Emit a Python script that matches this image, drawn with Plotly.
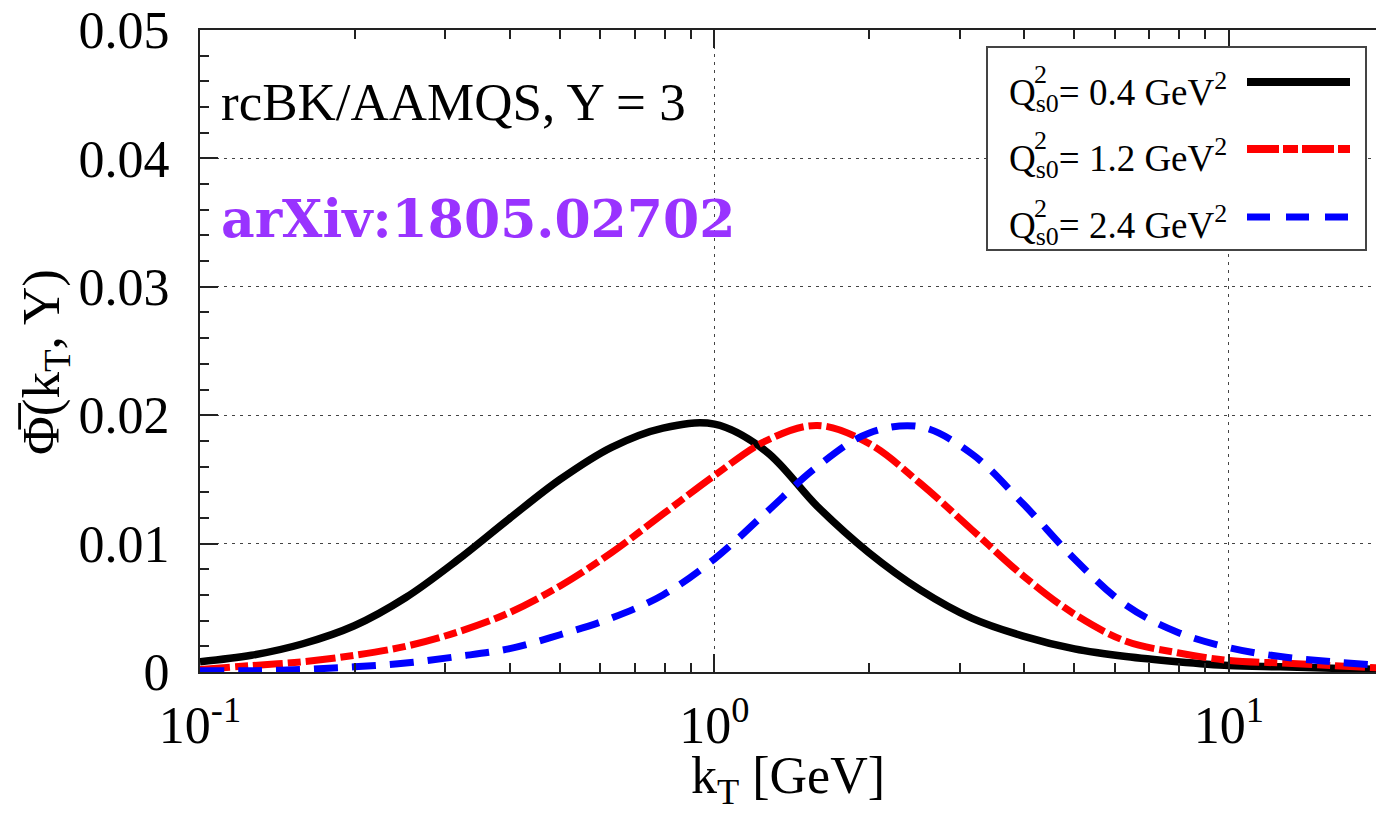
import plotly.graph_objects as go

# ---------------- data ----------------
# kT sample points [GeV] (even steps along the log axis)
k_T = [0.1, 0.1259, 0.1585, 0.1995, 0.2512, 0.3162, 0.3981, 0.5012, 0.6310, 0.7943,
       1.0, 1.2589, 1.5849, 1.9953, 2.5119, 3.1623, 3.9811, 5.0119, 6.3096, 7.9433,
       10.0, 12.589, 15.849, 19.953]

phi_black = [0.0008, 0.0013, 0.0022, 0.0036, 0.0058, 0.0087, 0.0119, 0.0150, 0.0175, 0.0190,
             0.0193, 0.0172, 0.0129, 0.0093, 0.0064, 0.0042, 0.0028, 0.0018, 0.0012, 0.0008,
             0.0005, 0.0004, 0.0003, 0.0002]
phi_red = [0.0002, 0.0005, 0.0008, 0.0013, 0.0020, 0.0031, 0.0046, 0.0067, 0.0093, 0.0123,
           0.0153, 0.0180, 0.0192, 0.0178, 0.0147, 0.0111, 0.0075, 0.0045, 0.0024, 0.0015,
           0.0009, 0.0007, 0.0005, 0.0003]
phi_blue = [0.0001, 0.0001, 0.0002, 0.0004, 0.0007, 0.0012, 0.0018, 0.0029, 0.0042, 0.0060,
            0.0088, 0.0124, 0.0160, 0.0186, 0.0191, 0.0170, 0.0131, 0.0088, 0.0052, 0.0031,
            0.0019, 0.0012, 0.0008, 0.0005]

legend_labels = ["0.4", "1.2", "2.4"]
x_tickvals = [0.1, 1, 10]
x_ticktext = ["10<sup>-1</sup>", "10<sup>0</sup>", "10<sup>1</sup>"]
x_minor = [0.2, 0.3, 0.4, 0.5, 0.6, 0.7, 0.8, 0.9, 2, 3, 4, 5, 6, 7, 8, 9, 20]
y_tickvals = [0, 0.01, 0.02, 0.03, 0.04, 0.05]
y_ticktext = ["0", "0.01", "0.02", "0.03", "0.04", "0.05"]

# ---------------- layout geometry ----------------
W, H = 1376, 814
L, R, T, B = 200, 1376, 30, 672


def px(x):
    return (x - L) / (R - L)


def py(y):
    return (B - y) / (B - T)


SERIF = "Liberation Serif, Times New Roman, serif"

RED_DASH = "30px,5px,13px,5px"
BLUE_DASH = "24px,14px"

fig = go.Figure()
fig.add_trace(go.Scatter(x=k_T, y=phi_black, mode="lines",
                         line=dict(color="black", width=7.5, shape="spline", smoothing=1.0),
                         showlegend=False))
fig.add_trace(go.Scatter(x=k_T, y=phi_red, mode="lines",
                         line=dict(color="#ff0000", width=7, dash=RED_DASH, shape="spline", smoothing=1.0),
                         showlegend=False))
fig.add_trace(go.Scatter(x=k_T, y=phi_blue, mode="lines",
                         line=dict(color="#0000ff", width=7, dash=BLUE_DASH, shape="spline", smoothing=1.0),
                         showlegend=False))

fig.update_layout(
    width=W, height=H,
    margin=dict(l=L, r=W - R, t=T, b=H - B, pad=0),
    paper_bgcolor="white", plot_bgcolor="white",
    font=dict(family=SERIF, color="black", size=52),
    showlegend=False,
)

fig.update_xaxes(
    type="log", range=[-1, 1.286],
    tickvals=x_tickvals, ticktext=x_ticktext,
    ticks="inside", ticklen=18, tickwidth=1.5, tickcolor="#222",
    showline=True, linecolor="#222", linewidth=2, mirror="ticks",
    showgrid=True, gridcolor="#444", gridwidth=1, griddash="3px,5px",
    minor=dict(tickmode="array", tickvals=x_minor, ticks="inside", ticklen=9, tickwidth=1.5,
               tickcolor="#222", showgrid=False),
    tickfont=dict(family=SERIF, size=52),
    ticklabelstandoff=7,
    zeroline=False,
)
fig.update_yaxes(
    range=[0, 0.05],
    tickvals=y_tickvals, ticktext=y_ticktext,
    ticks="inside", ticklen=18, tickwidth=1.5, tickcolor="#222",
    showline=True, linecolor="#222", linewidth=2, mirror=False,
    showgrid=True, gridcolor="#444", gridwidth=1, griddash="3px,5px",
    minor=dict(dtick=0.002, ticks="inside", ticklen=9, tickwidth=1.5, tickcolor="#222", showgrid=False),
    tickfont=dict(family=SERIF, size=52),
    ticklabelstandoff=18,
    zeroline=False,
)

ann = []
# axis titles
ann.append(dict(text="k<sub>T</sub> [GeV]", x=px(788), y=py(779), xref="paper", yref="paper",
                showarrow=False, xanchor="center", yanchor="middle", font=dict(family=SERIF, size=52)))
ann.append(dict(text="\u03A6\u0305(k<sub>T</sub>, Y)", x=px(45), y=py(362), xref="paper", yref="paper",
                showarrow=False, textangle=-90, xanchor="center", yanchor="middle",
                font=dict(family=SERIF, size=53)))
# in-plot labels
ann.append(dict(text="rcBK/AAMQS, Y = 3", x=px(219), y=py(102), xref="paper", yref="paper",
                showarrow=False, xanchor="left", yanchor="middle", font=dict(family=SERIF, size=53)))
ann.append(dict(text="<b>arXiv:1805.02702</b>", x=px(219), y=py(219), xref="paper", yref="paper",
                showarrow=False, xanchor="left", yanchor="middle",
                font=dict(family="DejaVu Serif, serif", size=52, color="#9933ff")))

# custom gnuplot-style key
shapes = [dict(type="rect", xref="paper", yref="paper", x0=px(987), x1=px(1366), y0=py(47), y1=py(250),
               line=dict(color="#444", width=2), fillcolor="white", layer="above")]
row_text_y = [92, 158, 225]
row_line_y = [82, 149, 217]
styles = [dict(color="black", width=8), dict(color="#ff0000", width=8, dash="32px,4px,15px,4px"),
          dict(color="#0000ff", width=7, dash="23px,16px")]
for lab, ty, ly, st in zip(legend_labels, row_text_y, row_line_y, styles):
    ann.append(dict(text="Q<sub>s0</sub>= " + lab + " GeV<sup>2</sup>", x=px(1007), y=py(ty),
                    xref="paper", yref="paper", showarrow=False, xanchor="left", yanchor="middle",
                    font=dict(family=SERIF, size=37)))
    ann.append(dict(text="2", x=px(1032), y=py(ty - 17), xref="paper", yref="paper", showarrow=False,
                    xanchor="left", yanchor="middle", font=dict(family=SERIF, size=26)))
    shapes.append(dict(type="line", xref="paper", yref="paper", x0=px(1247), x1=px(1350), y0=py(ly), y1=py(ly),
                       line=st, layer="above"))

fig.update_layout(annotations=ann, shapes=shapes)
fig.write_html("out.html")
